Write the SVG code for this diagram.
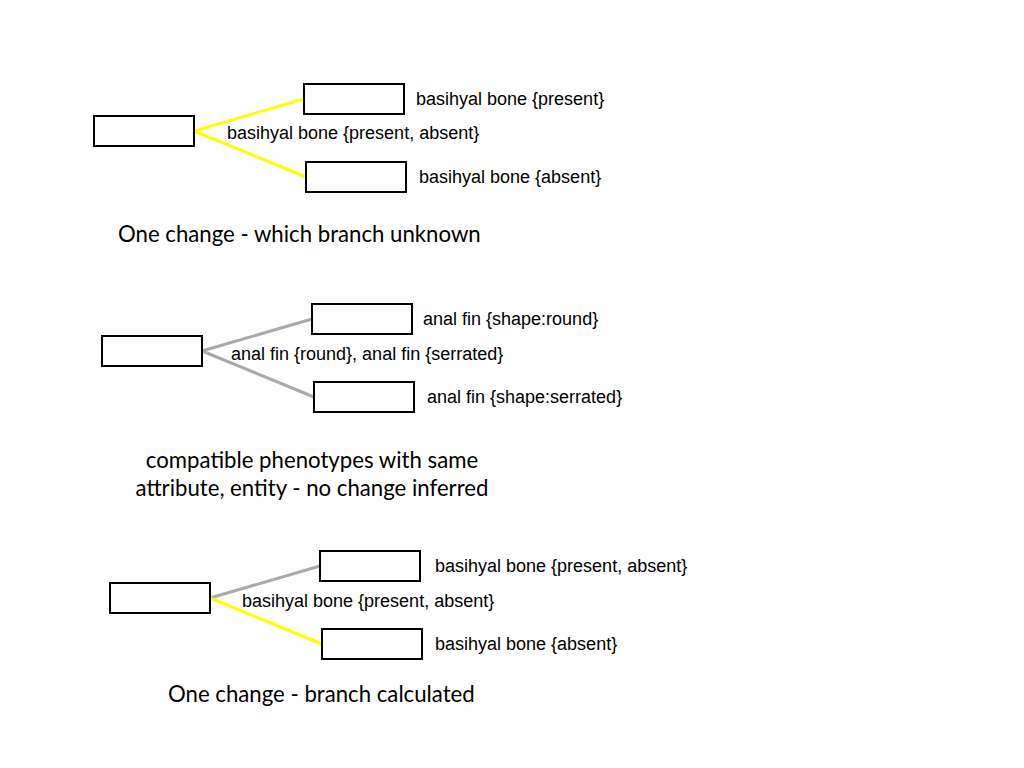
<svg xmlns="http://www.w3.org/2000/svg" width="1024" height="768" viewBox="0 0 1024 768">
<style>
.node{fill:#fff;stroke:#000;stroke-width:2}
.lbl{font-family:"Liberation Sans",Arial,sans-serif;font-size:18px;fill:#000}
.cap{font-family:Lato,"Open Sans",sans-serif;font-size:22.2px;fill:#000}
.y{stroke:#ffff00;stroke-width:3;fill:none}
.g{stroke:#aaaaaa;stroke-width:3;fill:none}
</style>
<rect width="1024" height="768" fill="#fff"/>
<g id="connectors">
<line class="y" x1="194" y1="131" x2="304" y2="99"/>
<line class="y" x1="194" y1="131" x2="306" y2="177"/>
<line class="g" x1="202" y1="351" x2="312" y2="319"/>
<line class="g" x1="202" y1="351" x2="314" y2="397"/>
<line class="g" x1="210" y1="598" x2="320" y2="566"/>
<line class="y" x1="210" y1="598" x2="322" y2="644"/>
</g>
<g id="n1a"><rect class="node" x="94" y="116" width="100" height="30"/></g>
<g id="n1b"><rect class="node" x="304" y="84" width="100" height="30"/><text class="lbl" x="416" y="105">basihyal bone {present}</text></g>
<g id="n1c"><rect class="node" x="306" y="162" width="100" height="30"/><text class="lbl" x="419" y="183">basihyal bone {absent}</text></g>
<text class="lbl" x="227" y="139">basihyal bone {present, absent}</text>
<text class="cap" x="118" y="242">One change - which branch unknown</text>
<g id="n2a"><rect class="node" x="102" y="336" width="100" height="30"/></g>
<g id="n2b"><rect class="node" x="312" y="304" width="100" height="30"/><text class="lbl" x="423" y="325">anal fin {shape:round}</text></g>
<g id="n2c"><rect class="node" x="314" y="382" width="100" height="30"/><text class="lbl" x="427" y="403">anal fin {shape:serrated}</text></g>
<text class="lbl" x="231" y="360">anal fin {round}, anal fin {serrated}</text>
<text class="cap" x="312" y="468" text-anchor="middle">compatible phenotypes with same</text>
<text class="cap" x="312" y="496" text-anchor="middle">attribute, entity - no change inferred</text>
<g id="n3a"><rect class="node" x="110" y="583" width="100" height="30"/></g>
<g id="n3b"><rect class="node" x="320" y="551" width="100" height="30"/><text class="lbl" x="435" y="572">basihyal bone {present, absent}</text></g>
<g id="n3c"><rect class="node" x="322" y="629" width="100" height="30"/><text class="lbl" x="435" y="650">basihyal bone {absent}</text></g>
<text class="lbl" x="242" y="607">basihyal bone {present, absent}</text>
<text class="cap" x="168" y="702">One change - branch calculated</text>
</svg>
